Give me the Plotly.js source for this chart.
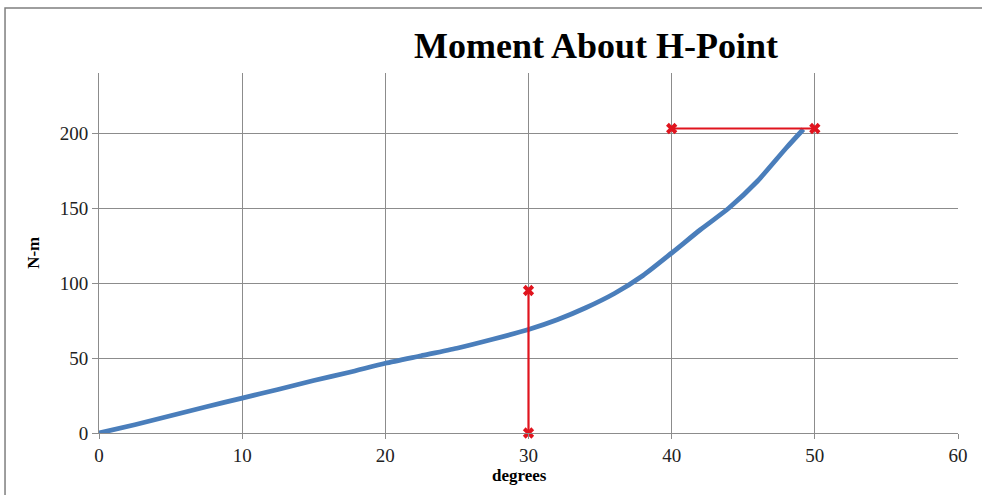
<!DOCTYPE html>
<html>
<head>
<meta charset="utf-8">
<script src="https://cdn.plot.ly/plotly-3.0.1.min.js"></script>
<style>html,body{margin:0;padding:0;background:#fff;}#chart{width:982px;height:495px;}</style>
</head>
<body>
<div id="chart"></div>
<script>
// Moment curve (degrees vs N-m)
const degrees = [0, 2.5, 5, 7.5, 10, 12.5, 15, 17.5, 20, 22.5, 25, 27.5, 30, 32, 34, 36, 38, 40, 42, 44, 46, 48, 49.2];
const moment  = [0, 5.5, 11.5, 17.5, 23.3, 29, 35, 40.5, 46.5, 51.5, 56.5, 62.5, 69, 75.5, 83.5, 93, 105, 120, 135.5, 150, 168, 190, 202.5];
// Red reference markers
const vLineX = [30, 30];
const vLineY = [0, 95];
const hLineX = [40, 50];
const hLineY = [203, 203];

const titleText = "Moment About H-Point";
const xTitle = "degrees";
const yTitle = "N-m";
const xTicks = [0, 10, 20, 30, 40, 50, 60];
const yTicks = [0, 50, 100, 150, 200];

const red = '#e0141e';
const serif = 'Liberation Serif, Times New Roman, serif';

const traces = [
  {x: degrees, y: moment, mode: 'lines', line: {color: '#4a7ebb', width: 4.8, shape: 'spline', smoothing: 0.6}, hoverinfo: 'skip'},
  {x: vLineX, y: vLineY, mode: 'lines+markers', line: {color: red, width: 2.2},
   marker: {symbol: 'x', size: 10, color: red}, cliponaxis: false},
  {x: hLineX, y: hLineY, mode: 'lines+markers', line: {color: red, width: 2.2},
   marker: {symbol: 'x', size: 10, color: red}, cliponaxis: false}
];

const layout = {
  width: 982, height: 495,
  margin: {l: 99, r: 24, t: 73, b: 62},
  paper_bgcolor: '#fff', plot_bgcolor: '#fff',
  showlegend: false,
  font: {family: serif, size: 19, color: '#222'},
  xaxis: {range: [0, 60], tickvals: xTicks, ticktext: xTicks.map(String),
    showgrid: true, gridcolor: '#8c8c8c', gridwidth: 1,
    showline: true, linecolor: '#8c8c8c', linewidth: 1,
    ticks: 'outside', ticklen: 5, tickcolor: '#8c8c8c',
    zeroline: false, tickfont: {family: serif, size: 19, color: '#222'}},
  yaxis: {range: [0, 240], tickvals: yTicks, ticktext: yTicks.map(String),
    showgrid: true, gridcolor: '#8c8c8c', gridwidth: 1,
    showline: true, linecolor: '#8c8c8c', linewidth: 1,
    ticks: 'outside', ticklen: 6, tickcolor: '#8c8c8c',
    zeroline: false, tickfont: {family: serif, size: 19, color: '#222'}},
  shapes: [
    {type: 'rect', xref: 'paper', yref: 'paper', x0: -0.1094, x1: 1.2, y0: -0.3, y1: 1.1806,
     line: {color: '#7f7f7f', width: 1.5}, fillcolor: 'rgba(0,0,0,0)'}
  ],
  annotations: [
    {text: '<b>' + titleText + '</b>', xref: 'paper', yref: 'paper', x: 0.578, y: 1.075,
     xanchor: 'center', yanchor: 'middle', showarrow: false,
     font: {family: serif, size: 36, color: '#000'}},
    {text: '<b>' + xTitle + '</b>', xref: 'paper', yref: 'paper', x: 0.489, y: -0.117,
     xanchor: 'center', yanchor: 'middle', showarrow: false,
     font: {family: serif, size: 17, color: '#000'}},
    {text: '<b>' + yTitle + '</b>', xref: 'paper', yref: 'paper', x: -0.077, y: 0.5,
     xanchor: 'center', yanchor: 'middle', showarrow: false, textangle: -90,
     font: {family: serif, size: 17, color: '#000'}}
  ]
};

Plotly.newPlot('chart', traces, layout, {staticPlot: true, displayModeBar: false});
</script>
</body>
</html>
